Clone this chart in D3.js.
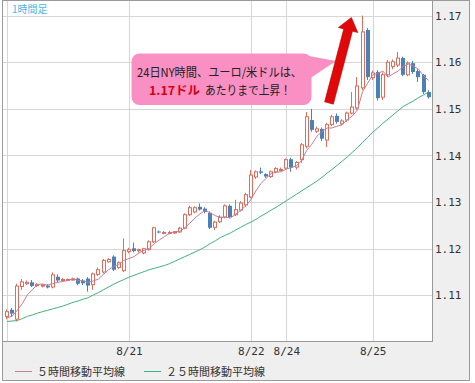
<!DOCTYPE html>
<html>
<head>
<meta charset="utf-8">
<script src="https://cdnjs.cloudflare.com/ajax/libs/d3/7.8.5/d3.min.js"></script>
<style>
body { margin: 0; background: #fff; }
svg { display: block; }
.jp { font-family: "Noto Sans CJK JP", sans-serif; }
</style>
</head>
<body>
<svg id="chart" width="475" height="383"></svg>
<script>
// EUR/USD 1時間足 (8/20 00:00 - 8/25 11:00)
var opens = [1.1055,1.1069,1.1049,1.1119,1.1125,1.1128,1.1121,1.1120,1.1121,1.1118,
	1.1140,1.1132,1.1133,1.1134,1.1136,1.1132,1.1136,1.1123,1.1145,1.1150,
	1.1172,1.1183,1.1160,1.1153,1.1194,1.1201,1.1196,1.1191,1.1198,1.1215,
	1.1237,1.1234,1.1233,1.1234,1.1236,1.1244,1.1273,1.1279,1.1290,1.1286,
	1.1277,1.1246,1.1258,1.1268,1.1292,1.1273,1.1283,1.1294,1.1311,1.1354,
	1.1366,1.1360,1.1355,1.1365,1.1369,1.1373,1.1392,1.1375,1.1391,1.1420,
	1.1476,1.1452,1.1457,1.1433,1.1466,1.1485,1.1468,1.1476,1.1491,1.1502,
	1.1545,1.1669,1.1567,1.1579,1.1525,1.1573,1.1591,1.1594,1.1609,1.1573,
	1.1598,1.1581,1.1573,1.1536];
var highs = [1.1070,1.1073,1.1125,1.1135,1.1132,1.1133,1.1126,1.1125,1.1124,1.1149,
	1.1145,1.1137,1.1136,1.1138,1.1138,1.1135,1.1139,1.1149,1.1160,1.1178,
	1.1180,1.1186,1.1173,1.1222,1.1202,1.1213,1.1200,1.1202,1.1218,1.1247,
	1.1239,1.1238,1.1238,1.1238,1.1247,1.1276,1.1292,1.1291,1.1297,1.1289,
	1.1280,1.1260,1.1272,1.1295,1.1295,1.1305,1.1302,1.1320,1.1369,1.1368,
	1.1374,1.1362,1.1368,1.1375,1.1374,1.1394,1.1395,1.1388,1.1427,1.1493,
	1.1500,1.1462,1.1460,1.1470,1.1487,1.1490,1.1478,1.1494,1.1536,1.1568,
	1.1700,1.1673,1.1582,1.1583,1.1578,1.1605,1.1606,1.1622,1.1612,1.1602,
	1.1603,1.1585,1.1575,1.1540];
var lows = [1.1049,1.1055,1.1044,1.1112,1.1122,1.1118,1.1118,1.1117,1.1115,1.1115,
	1.1128,1.1130,1.1131,1.1132,1.1122,1.1122,1.1108,1.1112,1.1142,1.1147,
	1.1170,1.1152,1.1157,1.1150,1.1190,1.1192,1.1192,1.1188,1.1196,1.1212,
	1.1233,1.1231,1.1231,1.1232,1.1234,1.1242,1.1270,1.1276,1.1282,1.1276,
	1.1242,1.1240,1.1255,1.1265,1.1265,1.1270,1.1280,1.1290,1.1308,1.1350,
	1.1360,1.1352,1.1352,1.1362,1.1366,1.1370,1.1365,1.1370,1.1384,1.1415,
	1.1451,1.1448,1.1431,1.1418,1.1463,1.1468,1.1464,1.1472,1.1488,1.1498,
	1.1540,1.1562,1.1562,1.1518,1.1519,1.1568,1.1585,1.1590,1.1570,1.1570,
	1.1575,1.1558,1.1532,1.1522];
var closes = [1.1065,1.1061,1.1120,1.1129,1.1128,1.1120,1.1123,1.1122,1.1117,1.1144,
	1.1132,1.1134,1.1134,1.1135,1.1125,1.1126,1.1121,1.1146,1.1155,1.1175,
	1.1177,1.1155,1.1170,1.1196,1.1198,1.1195,1.1198,1.1200,1.1215,1.1245,
	1.1235,1.1235,1.1235,1.1236,1.1244,1.1273,1.1288,1.1288,1.1284,1.1279,
	1.1245,1.1257,1.1268,1.1292,1.1268,1.1284,1.1298,1.1316,1.1358,1.1365,
	1.1363,1.1355,1.1365,1.1372,1.1370,1.1391,1.1374,1.1385,1.1423,1.1483,
	1.1455,1.1457,1.1436,1.1466,1.1483,1.1472,1.1474,1.1491,1.1504,1.1549,
	1.1665,1.1568,1.1577,1.1523,1.1573,1.1600,1.1601,1.1609,1.1573,1.1598,
	1.1579,1.1568,1.1536,1.1525];
var ma5 = [1.1052,1.1055,1.1068,1.1082,1.1101,1.1112,1.1124,1.1124,1.1122,1.1125,
	1.1128,1.1130,1.1132,1.1136,1.1132,1.1131,1.1128,1.1131,1.1135,1.1145,
	1.1155,1.1162,1.1166,1.1175,1.1179,1.1183,1.1191,1.1197,1.1201,1.1211,
	1.1219,1.1226,1.1233,1.1237,1.1237,1.1245,1.1255,1.1266,1.1275,1.1282,
	1.1277,1.1271,1.1267,1.1268,1.1266,1.1274,1.1282,1.1292,1.1305,1.1324,
	1.1340,1.1351,1.1361,1.1364,1.1365,1.1371,1.1374,1.1378,1.1389,1.1411,
	1.1424,1.1441,1.1451,1.1459,1.1459,1.1463,1.1466,1.1477,1.1485,1.1498,
	1.1537,1.1555,1.1573,1.1576,1.1581,1.1568,1.1575,1.1581,1.1591,1.1596,
	1.1592,1.1585,1.1571,1.1561];
var ma25 = [1.1044,1.1045,1.1046,1.1050,1.1055,1.1058,1.1062,1.1065,1.1068,1.1071,
	1.1074,1.1077,1.1081,1.1085,1.1088,1.1092,1.1095,1.1101,1.1106,1.1112,
	1.1118,1.1124,1.1129,1.1134,1.1139,1.1143,1.1147,1.1151,1.1155,1.1158,
	1.1161,1.1164,1.1168,1.1173,1.1178,1.1183,1.1188,1.1193,1.1198,1.1204,
	1.1211,1.1217,1.1224,1.1229,1.1234,1.1240,1.1246,1.1252,1.1257,1.1263,
	1.1270,1.1276,1.1283,1.1289,1.1296,1.1303,1.1310,1.1317,1.1324,1.1331,
	1.1338,1.1345,1.1353,1.1362,1.1370,1.1379,1.1388,1.1397,1.1407,1.1417,
	1.1428,1.1439,1.1450,1.1459,1.1469,1.1478,1.1487,1.1496,1.1505,1.1511,
	1.1517,1.1524,1.1530,1.1536];

var xTickIdx = [0, 24, 48, 55, 72];
var xTickLabels = ["", "8/21", "8/22", "8/24", "8/25"];
var yTicks = [1.11, 1.12, 1.13, 1.14, 1.15, 1.16, 1.17];
var legendNames = ["５時間移動平均線", "２５時間移動平均線"];

var upColor = "#dc6e5a", downColor = "#4a82b8";
var ma5Color = "#c97b98", ma25Color = "#3fb27d";

var svg = d3.select("#chart");
var plotL = 2, plotR = 432, plotB = 342;

var x = d3.scaleLinear().domain([0, 83]).range([7, 428.6]);
var y = d3.scaleLinear().domain([1.10, 1.17]).range([342, 15.6]);

// backgrounds
svg.append("rect").attr("x", 2).attr("y", 0).attr("width", 468).attr("height", 381).attr("fill", "#efefef");
svg.append("rect").attr("x", plotL).attr("y", 0).attr("width", plotR - plotL).attr("height", plotB).attr("fill", "#fff");

// grid
svg.append("g").selectAll("line")
	.data(yTicks)
	.enter().append("line")
	.attr("x1", plotL).attr("x2", plotR)
	.attr("y1", function(d) { return Math.round(y(d)) + 0.5; })
	.attr("y2", function(d) { return Math.round(y(d)) + 0.5; })
	.attr("stroke", "#d6d6d6");

svg.append("g").selectAll("line")
	.data(xTickIdx)
	.enter().append("line")
	.attr("y1", 0).attr("y2", plotB)
	.attr("x1", function(d) { return Math.round(x(d)) + 0.5; })
	.attr("x2", function(d) { return Math.round(x(d)) + 0.5; })
	.attr("stroke", "#d6d6d6");

// 25MA
var line = d3.line()
	.x(function(d, i) { return x(i); })
	.y(function(d) { return y(d); });

svg.append("path")
	.datum(ma25)
	.attr("d", line)
	.attr("fill", "none")
	.attr("stroke", ma25Color)
	.attr("stroke-width", 1);

// candles
var candles = d3.range(opens.length).map(function(i) {
	return { i: i, o: opens[i], h: highs[i], l: lows[i], c: closes[i] };
});

var cg = svg.append("g").selectAll("g")
	.data(candles)
	.enter().append("g");

cg.append("line")
	.attr("x1", function(d) { return Math.round(x(d.i)) - 0.5; })
	.attr("x2", function(d) { return Math.round(x(d.i)) - 0.5; })
	.attr("y1", function(d) { return y(d.h); })
	.attr("y2", function(d) { return y(d.l); })
	.attr("stroke", function(d) { return d.c >= d.o ? upColor : downColor; });

cg.append("rect")
	.attr("x", function(d) { return d.c >= d.o ? Math.round(x(d.i)) - 1.5 : Math.round(x(d.i)) - 2; })
	.attr("width", function(d) { return d.c >= d.o ? 3 : 4; })
	.attr("y", function(d) { return y(Math.max(d.o, d.c)); })
	.attr("height", function(d) { return Math.max(1, y(Math.min(d.o, d.c)) - y(Math.max(d.o, d.c))); })
	.attr("fill", function(d) { return d.c >= d.o ? "#fff" : downColor; })
	.attr("stroke", function(d) { return d.c >= d.o ? upColor : "none"; });

// 5MA
svg.append("path")
	.datum(ma5)
	.attr("d", line)
	.attr("fill", "none")
	.attr("stroke", ma5Color)
	.attr("stroke-width", 1);

// borders
svg.append("rect").attr("x", 2.5).attr("y", 0.5).attr("width", 467).attr("height", 380)
	.attr("fill", "none").attr("stroke", "#9a9a9a");
svg.append("line").attr("x1", plotR + 0.5).attr("x2", plotR + 0.5).attr("y1", 0).attr("y2", plotB)
	.attr("stroke", "#9a9a9a");
svg.append("line").attr("x1", plotL).attr("x2", plotR + 1).attr("y1", plotB - 0.5).attr("y2", plotB - 0.5)
	.attr("stroke", "#9a9a9a");

// axes
var yAxis = svg.append("g")
	.attr("transform", "translate(" + plotR + ",0)")
	.call(d3.axisRight(y).tickValues(yTicks).tickSize(0).tickPadding(3).tickFormat(d3.format(".2f")));
yAxis.select(".domain").remove();
yAxis.selectAll("text")
	.attr("font-family", "'DejaVu Sans Mono', monospace")
	.attr("font-size", 11)
	.attr("fill", "#333");

var xAxis = svg.append("g")
	.attr("transform", "translate(0," + plotB + ")")
	.call(d3.axisBottom(x).tickValues(xTickIdx).tickSize(0).tickPadding(5)
		.tickFormat(function(d, k) { return xTickLabels[k]; }));
xAxis.select(".domain").remove();
xAxis.selectAll("text")
	.attr("font-family", "'DejaVu Sans Mono', monospace")
	.attr("font-size", 11)
	.attr("fill", "#333");

// title
svg.append("text")
	.attr("class", "jp")
	.attr("x", 12).attr("y", 13)
	.attr("font-size", 10)
	.attr("fill", "#4db3e6")
	.text("1時間足");

// legend
var leg = svg.append("g").selectAll("g")
	.data(legendNames)
	.enter().append("g")
	.attr("transform", function(d, i) { return "translate(" + (i === 0 ? 15 : 144) + ",371.5)"; });
leg.append("line")
	.attr("x1", 0).attr("x2", 17)
	.attr("stroke", function(d, i) { return i === 0 ? ma5Color : ma25Color; });
leg.append("text")
	.attr("class", "jp")
	.attr("x", 22).attr("y", 4)
	.attr("font-size", 11)
	.attr("fill", "#333")
	.text(function(d) { return d; });

// annotation
var note = svg.append("g");
note.append("path")
	.attr("d", "M298,54 L336,61 L309,79 Z")
	.attr("fill", "#f98fc3");
note.append("rect")
	.attr("x", 131.5).attr("y", 53.5)
	.attr("width", 180).attr("height", 51.5)
	.attr("rx", 8)
	.attr("fill", "#f98fc3");
note.append("text")
	.attr("class", "jp")
	.attr("x", 137).attr("y", 77)
	.attr("font-size", 12)
	.attr("fill", "#222")
	.attr("textLength", 165)
	.attr("lengthAdjust", "spacingAndGlyphs")
	.text("24日NY時間、ユーロ/米ドルは、");
note.append("text")
	.attr("class", "jp")
	.attr("x", 149).attr("y", 95)
	.attr("font-size", 12)
	.attr("font-weight", "bold")
	.attr("fill", "#d4000f")
	.attr("textLength", 51)
	.attr("lengthAdjust", "spacingAndGlyphs")
	.text("1.17ドル");
note.append("text")
	.attr("class", "jp")
	.attr("x", 205).attr("y", 95)
	.attr("font-size", 12)
	.attr("fill", "#222")
	.attr("textLength", 86)
	.attr("lengthAdjust", "spacingAndGlyphs")
	.text("あたりまで上昇！");

// red arrow
var tail = [329, 103], tip = [x(67.8), y(1.1696)];
var dx = tip[0] - tail[0], dy = tip[1] - tail[1], len = Math.sqrt(dx * dx + dy * dy);
var ux = dx / len, uy = dy / len, nx = -uy, ny = ux;
var shaftW = 4.5, headW = 10, headL = 13;
var bx = tip[0] - ux * headL, by = tip[1] - uy * headL;
var pts = [
	[tail[0] + nx * shaftW, tail[1] + ny * shaftW],
	[bx + nx * shaftW, by + ny * shaftW],
	[bx + nx * headW, by + ny * headW],
	tip,
	[bx - nx * headW, by - ny * headW],
	[bx - nx * shaftW, by - ny * shaftW],
	[tail[0] - nx * shaftW, tail[1] - ny * shaftW]
];
note.append("polygon")
	.attr("points", pts.map(function(p) { return p.join(","); }).join(" "))
	.attr("fill", "#e00808")
	.attr("stroke", "#b80000")
	.attr("stroke-width", 0.6);
</script>
</body>
</html>
